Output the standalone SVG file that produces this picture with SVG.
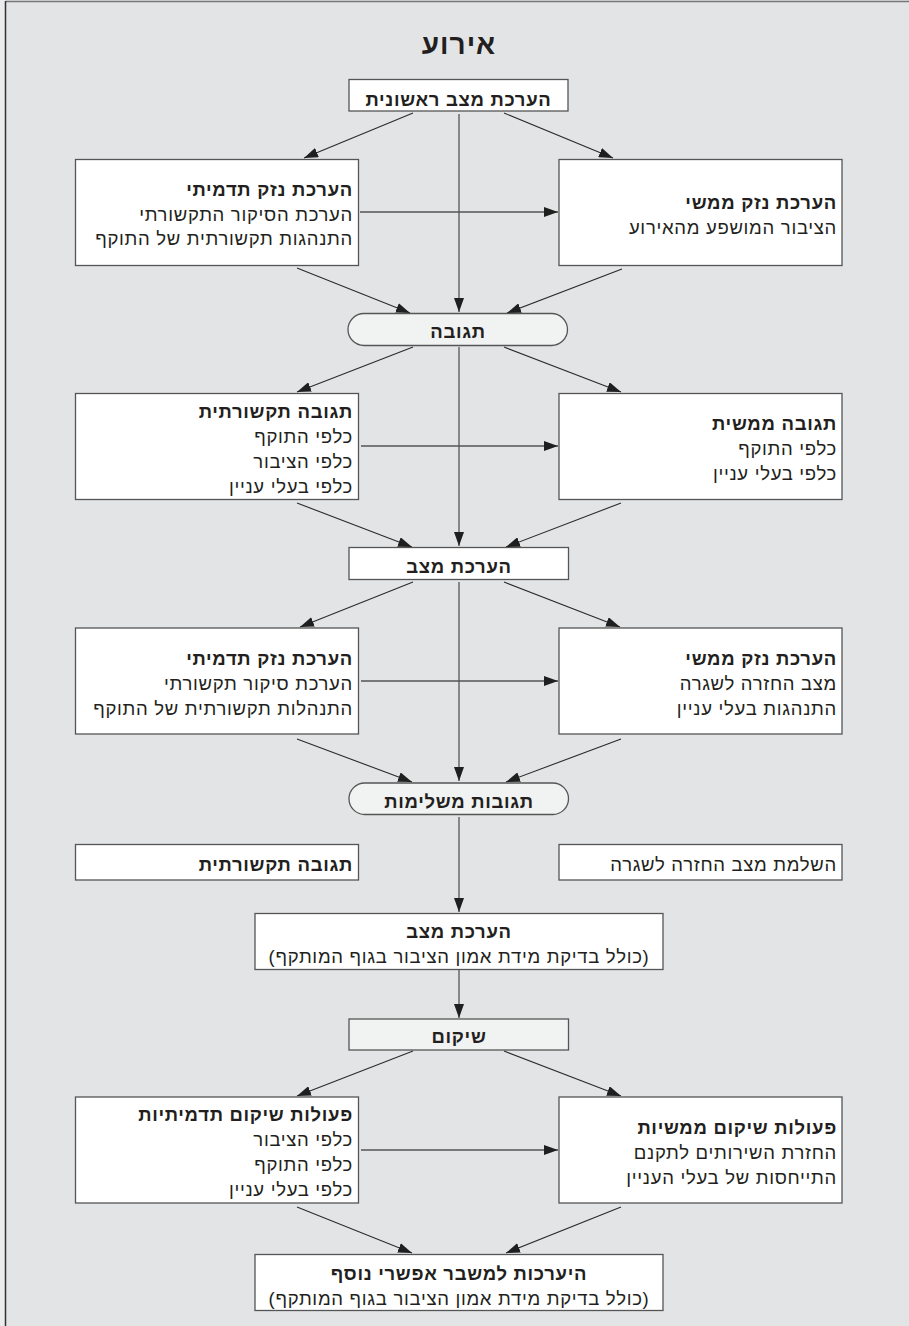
<svg xmlns="http://www.w3.org/2000/svg" width="909" height="1326" viewBox="0 0 909 1326">
<style>
text{font-family:"Liberation Sans","DejaVu Sans",sans-serif;fill:#231f20;direction:rtl;}
.t{font-size:18.5px;letter-spacing:0.7px;text-anchor:start;}
.b{font-weight:bold;}
.c{text-anchor:middle;}
.title{font-size:28px;letter-spacing:1px;font-weight:bold;text-anchor:middle;}
.box{fill:#ffffff;stroke:#555555;stroke-width:1.3;}
.pill{fill:#f1f2f2;stroke:#555555;stroke-width:1.3;}
.gbox{fill:#f1f2f2;stroke:#555555;stroke-width:1.3;}
.ln{stroke:#2b2b2b;stroke-width:1.1;fill:none;marker-end:url(#ah);}
.v{stroke:#555555;stroke-width:1.3;fill:none;marker-end:url(#ah);}
</style>
<defs>
<marker id="ah" markerUnits="userSpaceOnUse" markerWidth="14" markerHeight="10" refX="14" refY="5" orient="auto">
<path d="M0,0 L14,5 L0,10 z" fill="#1f1f1f"/>
</marker>
</defs>
<rect x="0" y="0" width="909" height="1326" fill="#e3e4e6"/>
<rect x="0" y="0" width="5" height="1326" fill="#ececec"/>
<line x1="5.5" y1="1.5" x2="909" y2="1.5" stroke="#777777" stroke-width="1.5"/>
<line x1="5.5" y1="1" x2="5.5" y2="1326" stroke="#333333" stroke-width="1.5"/>

<g id="connectors">
<line class="ln" x1="413" y1="113" x2="304" y2="158"/>
<line class="ln" x1="504" y1="113" x2="613" y2="158"/>
<line class="v" x1="459" y1="114" x2="459" y2="312"/>
<line class="v" x1="360" y1="212" x2="558" y2="212"/>
<line class="ln" x1="297" y1="268" x2="410" y2="313"/>
<line class="ln" x1="622" y1="269" x2="507" y2="313"/>

<line class="ln" x1="413" y1="347" x2="297" y2="392"/>
<line class="ln" x1="504" y1="347" x2="621" y2="392"/>
<line class="v" x1="459" y1="347" x2="459" y2="546"/>
<line class="v" x1="361" y1="446" x2="558" y2="446"/>
<line class="ln" x1="297" y1="503" x2="412" y2="547"/>
<line class="ln" x1="621" y1="503" x2="506" y2="547"/>

<line class="ln" x1="413" y1="582" x2="300" y2="627"/>
<line class="ln" x1="504" y1="582" x2="620" y2="627"/>
<line class="v" x1="459" y1="582" x2="459" y2="781"/>
<line class="v" x1="361" y1="681" x2="558" y2="681"/>
<line class="ln" x1="297" y1="739" x2="412" y2="782"/>
<line class="ln" x1="621" y1="739" x2="506" y2="782"/>

<line class="v" x1="459" y1="817" x2="459" y2="912"/>
<line class="v" x1="459" y1="970" x2="459" y2="1018"/>

<line class="ln" x1="413" y1="1051" x2="297" y2="1096"/>
<line class="ln" x1="504" y1="1051" x2="621" y2="1096"/>
<line class="v" x1="361" y1="1150" x2="558" y2="1150"/>
<line class="ln" x1="297" y1="1207" x2="412" y2="1253"/>
<line class="ln" x1="621" y1="1207" x2="506" y2="1253"/>
</g>

<g id="title"><text class="title" x="459" y="54">אירוע</text></g>

<g id="n-initial">
<rect class="box" x="349" y="79.5" width="219" height="31.5"/>
<text class="t b c" x="458.5" y="106">הערכת מצב ראשונית</text>
</g>

<g id="n-image1">
<rect class="box" x="75.5" y="159.5" width="283" height="106"/>
<text class="t b" x="353" y="196">הערכת נזק תדמיתי</text>
<text class="t" x="353" y="220.5">הערכת הסיקור התקשורתי</text>
<text class="t" x="353" y="245">התנהגות תקשורתית של התוקף</text>
</g>

<g id="n-real1">
<rect class="box" x="559" y="159.5" width="283" height="106"/>
<text class="t b" x="837" y="209">הערכת נזק ממשי</text>
<text class="t" x="837" y="233.5">הציבור המושפע מהאירוע</text>
</g>

<g id="n-response">
<rect class="pill" x="348" y="313.5" width="219.5" height="32" rx="16" ry="16"/>
<text class="t b c" x="458" y="338">תגובה</text>
</g>

<g id="n-media-response">
<rect class="box" x="75.5" y="393.5" width="283" height="106"/>
<text class="t b" x="353" y="418">תגובה תקשורתית</text>
<text class="t" x="353" y="443">כלפי התוקף</text>
<text class="t" x="353" y="468">כלפי הציבור</text>
<text class="t" x="353" y="493">כלפי בעלי עניין</text>
</g>

<g id="n-real-response">
<rect class="box" x="559" y="393.5" width="283" height="106"/>
<text class="t b" x="837" y="430">תגובה ממשית</text>
<text class="t" x="837" y="455">כלפי התוקף</text>
<text class="t" x="837" y="479.5">כלפי בעלי עניין</text>
</g>

<g id="n-assess">
<rect class="box" x="349" y="547.5" width="219.5" height="32"/>
<text class="t b c" x="459" y="573">הערכת מצב</text>
</g>

<g id="n-image2">
<rect class="box" x="75.5" y="628" width="283" height="106"/>
<text class="t b" x="353" y="664.5">הערכת נזק תדמיתי</text>
<text class="t" x="353" y="689.5">הערכת סיקור תקשורתי</text>
<text class="t" x="353" y="714.5">התנהלות תקשורתית של התוקף</text>
</g>

<g id="n-real2">
<rect class="box" x="559" y="628" width="283" height="106"/>
<text class="t b" x="837" y="664.5">הערכת נזק ממשי</text>
<text class="t" x="837" y="689.5">מצב החזרה לשגרה</text>
<text class="t" x="837" y="714.5">התנהגות בעלי עניין</text>
</g>

<g id="n-complementary">
<rect class="pill" x="349" y="783" width="219.5" height="31.5" rx="15.75" ry="15.75"/>
<text class="t b c" x="459" y="808">תגובות משלימות</text>
</g>

<g id="n-media-side">
<rect class="box" x="75.5" y="844.5" width="283" height="35.5"/>
<text class="t b" x="353" y="871">תגובה תקשורתית</text>
</g>

<g id="n-real-side">
<rect class="box" x="559" y="844.5" width="283" height="35.5"/>
<text class="t" x="837" y="871">השלמת מצב החזרה לשגרה</text>
</g>

<g id="n-assess2">
<rect class="box" x="255" y="913.5" width="408" height="56"/>
<text class="t b c" x="459" y="938">הערכת מצב</text>
<text class="t c" x="459" y="963">(כולל בדיקת מידת אמון הציבור בגוף המותקף)</text>
</g>

<g id="n-rehab">
<rect class="gbox" x="349" y="1019" width="219.5" height="31"/>
<text class="t b c" x="459" y="1043">שיקום</text>
</g>

<g id="n-image-rehab">
<rect class="box" x="75.5" y="1097" width="283" height="106"/>
<text class="t b" x="353" y="1121">פעולות שיקום תדמיתיות</text>
<text class="t" x="353" y="1146">כלפי הציבור</text>
<text class="t" x="353" y="1171">כלפי התוקף</text>
<text class="t" x="353" y="1196">כלפי בעלי עניין</text>
</g>

<g id="n-real-rehab">
<rect class="box" x="559" y="1097" width="283" height="106"/>
<text class="t b" x="837" y="1134">פעולות שיקום ממשיות</text>
<text class="t" x="837" y="1159">החזרת השירותים לתקנם</text>
<text class="t" x="837" y="1184">התייחסות של בעלי העניין</text>
</g>

<g id="n-prepare">
<rect class="box" x="255" y="1254.5" width="408" height="56"/>
<text class="t b c" x="459" y="1279.5">היערכות למשבר אפשרי נוסף</text>
<text class="t c" x="459" y="1304.5">(כולל בדיקת מידת אמון הציבור בגוף המותקף)</text>
</g>
</svg>
